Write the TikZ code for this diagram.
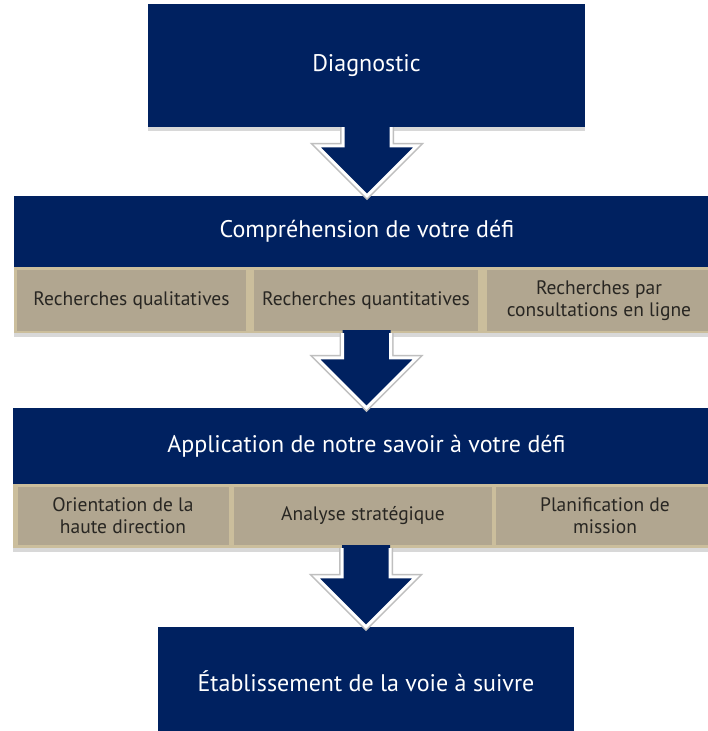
\documentclass[tikz,border=0pt]{standalone}
\usepackage{fontspec}
\setmainfont{PT Sans}
\usetikzlibrary{calc}
\usetikzlibrary{shadows}
\definecolor{navy}{RGB}{0,33,96}
\definecolor{tan}{RGB}{177,166,144}
\definecolor{tanlight}{RGB}{203,190,156}
\definecolor{ink}{RGB}{40,38,34}

% block arrow from the bottom of #1 to the top of #2
\newcommand{\flowarrow}[2]{%
  \coordinate (s) at (#1.south -| #2.north);
  \coordinate (t) at (#2.north);
  \draw[black!25, line width=6, line join=miter]
    ($(s)+(-24,0)$) -- ($(t)+(-24,-50)$) -- ($(t)+(-50,-50)$) -- (t)
    -- ($(t)+(50,-50)$) -- ($(t)+(24,-50)$) -- ($(s)+(24,0)$);
  \fill[navy] ($(s)+(-24,-3)$) -- ($(t)+(-24,-50)$) -- ($(t)+(-50,-50)$) -- (t)
    -- ($(t)+(50,-50)$) -- ($(t)+(24,-50)$) -- ($(s)+(24,-3)$) -- cycle;
  \draw[white, line width=3, line join=miter]
    ($(s)+(-24,0)$) -- ($(t)+(-24,-50)$) -- ($(t)+(-50,-50)$) -- (t)
    -- ($(t)+(50,-50)$) -- ($(t)+(24,-50)$) -- ($(s)+(24,0)$);
}

\begin{document}
\begin{tikzpicture}[x=1pt, y=-1pt,
  navybox/.style={fill=navy, text=white, inner sep=0,
    font=\fontsize{24}{28}\selectfont},
  rowbg/.style={fill=tanlight, inner sep=0,
    drop shadow={shadow xshift=0pt, shadow yshift=-4pt, opacity=.3}},
  tanbox/.style={fill=tan, text=ink, inner sep=0, align=center,
    font=\fontsize{19.5}{22}\selectfont}]
\useasboundingbox[fill=white] (0,0) rectangle (708,731);

% the steps
\node[navybox, minimum width=437, minimum height=123,
  drop shadow={shadow xshift=0pt, shadow yshift=-4pt, opacity=.3}] (diag) at (366.5,65.5) {Diagnostic};
\node[navybox, minimum width=706, minimum height=71] (comp) at (367,231.5) {Compréhension de votre défi};
\node[rowbg, minimum width=706, minimum height=66] (rowA) at (367,300) {};
\node[navybox, minimum width=707, minimum height=76] (app) at (366.5,446) {Application de notre savoir à votre défi};
\node[rowbg, minimum width=707, minimum height=64] (rowB) at (366.5,516) {};
\node[navybox, minimum width=416, minimum height=108] (fin) at (366,681) {Établissement de la voie à suivre};

% first row of tan boxes
\node[tanbox, minimum width=229, minimum height=61] (qual) at (131.5,300.5) {Recherches qualitatives};
\node[tanbox, minimum width=224, minimum height=61] (quant) at (366,300.5) {Recherches quantitatives};
\node[tanbox, minimum width=224, minimum height=61] (ligne) at (599,300.5) {Recherches par\\consultations en ligne};

% second row of tan boxes
\node[tanbox, minimum width=211, minimum height=58] (orient) at (123,516) {Orientation de la\\haute direction};
\node[tanbox, minimum width=258, minimum height=58] (analyse) at (363,516) {Analyse stratégique};
\node[tanbox, minimum width=218, minimum height=58] (plan) at (605,516) {Planification de\\mission};

% arrows between the steps
\flowarrow{diag}{comp}
\flowarrow{rowA}{app}
\flowarrow{rowB}{fin}
\end{tikzpicture}
\end{document}
